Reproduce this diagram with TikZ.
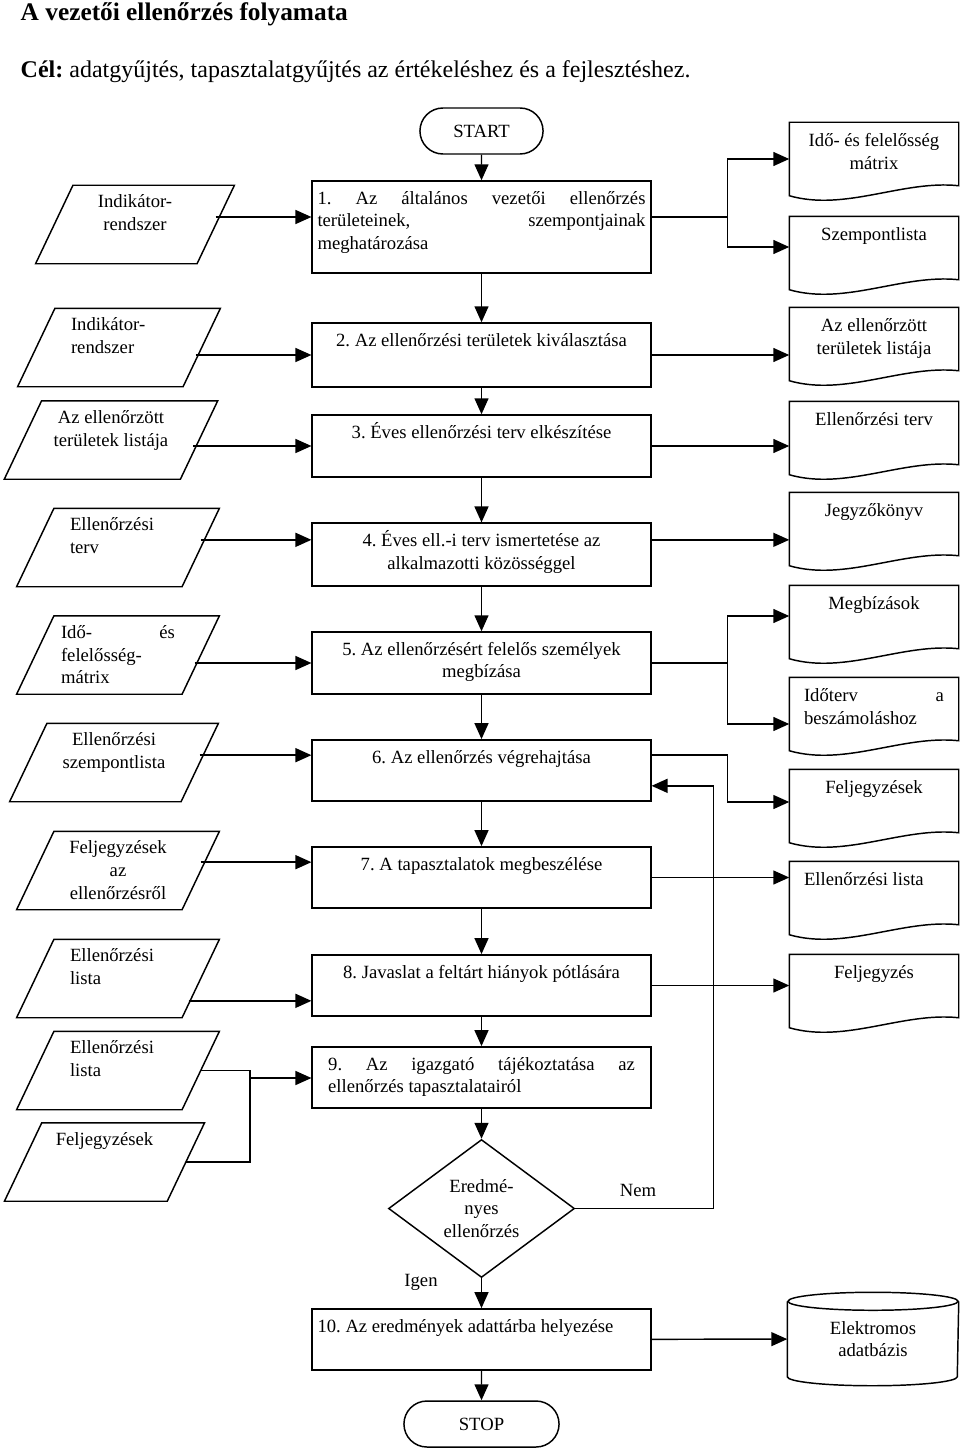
\documentclass[tikz,border=0pt]{standalone}
\usepackage{fontspec}
\setmainfont{Liberation Serif}
\usetikzlibrary{arrows.meta, shapes.geometric, shapes.misc}
\frenchspacing

% text block of fixed height, set from the top
\newcommand{\boxtxt}[3]{\parbox[c][#1][t]{#2}{\strut#3}}

\begin{document}
\begin{tikzpicture}[x=0.75pt, y=-0.75pt, line width=1.1pt,
  >={Triangle[length=12pt, width=10.5pt]},
  every node/.style={font=\fontsize{14}{17}\selectfont},
  proc/.style={draw, inner xsep=4pt, inner ysep=5.5pt},
  doc/.style={minimum width=126pt, inner xsep=0pt, inner ysep=6pt},
  data/.style={minimum width=123pt, inner xsep=0pt, inner ysep=4.5pt},
  term/.style={draw, rounded rectangle, minimum height=34.5pt}]

\useasboundingbox (0,0) rectangle (960,1452);

% title
\node[anchor=base west, inner sep=0pt, font=\fontsize{19}{23}\selectfont\bfseries] (title) at (20,21) {A vezetői ellenőrzés folyamata};
\node[anchor=base west, inner sep=0pt, font=\fontsize{18}{22}\selectfont] (goal) at (20,78) {\textbf{Cél:} adatgyűjtés, tapasztalatgyűjtés az értékeléshez és a fejlesztéshez.};

% main column
\node[term, minimum width=99pt] (start) at (481.5,131) {START};
\node[proc] (b1) at (481.5,227) {\boxtxt{58pt}{246pt}{\makebox[\linewidth][s]{1. Az általános vezetői ellenőrzés}\\\makebox[\linewidth][s]{területeinek, szempontjainak}\\meghatározása}};
\node[proc] (b2) at (481.5,355) {\boxtxt{37pt}{246pt}{\centering 2. Az ellenőrzési területek kiválasztása}};
\node[proc] (b3) at (481.5,446) {\boxtxt{35.5pt}{246pt}{\centering 3. Éves ellenőrzési terv elkészítése}};
\node[proc] (b4) at (481.5,554.5) {\boxtxt{36pt}{246pt}{\centering 4. Éves ell.-i terv ismertetése az\\alkalmazotti közösséggel}};
\node[proc] (b5) at (481.5,663) {\boxtxt{35.5pt}{246pt}{\centering 5. Az ellenőrzésért felelős személyek\\megbízása}};
\node[proc] (b6) at (481.5,770.5) {\boxtxt{35pt}{246pt}{\centering 6. Az ellenőrzés végrehajtása}};
\node[proc] (b7) at (481.5,877.5) {\boxtxt{35pt}{246pt}{\centering 7. A tapasztalatok megbeszélése}};
\node[proc] (b8) at (481.5,985.5) {\boxtxt{35pt}{246pt}{\centering 8. Javaslat a feltárt hiányok pótlására}};
\node[proc] (b9) at (481.5,1077.5) {\boxtxt{35pt}{246pt}{\hspace*{8pt}\makebox[230pt][s]{9. Az igazgató tájékoztatása az}\\\hspace*{8pt}ellenőrzés tapasztalatairól}};
\node[draw, diamond, aspect=1.35, minimum width=139.5pt, minimum height=103.5pt, inner sep=0pt, align=center] (dia) at (481.5,1208.5) {Eredmé-\\nyes\\ellenőrzés};
\node[proc] (b10) at (481.5,1339.5) {\boxtxt{35pt}{246pt}{10. Az eredmények adattárba helyezése}};
\node[term, minimum width=123pt] (stop) at (481.5,1424) {STOP};

\node (nem) at (638,1190) {Nem};
\node (igen) at (421,1282) {Igen};

% inputs
\node[data, minimum width=120pt] (p1) at (135,224.5) {\boxtxt{48.75pt}{100pt}{\centering Indikátor-\\rendszer}};
\node[data] (p2) at (119,347.5) {\boxtxt{48.75pt}{72pt}{Indikátor-\\rendszer}};
\node[data, minimum width=131pt] (p3) at (111,440) {\boxtxt{48.75pt}{120pt}{\centering Az ellenőrzött\\területek listája}};
\node[data] (p4) at (118,547.5) {\boxtxt{48.75pt}{72pt}{Ellenőrzési\\terv}};
\node[data] (p5) at (118,655) {\boxtxt{48.75pt}{85.5pt}{\makebox[\linewidth][s]{Idő- és}\\felelősség-\\mátrix}};
\node[data, minimum width=127.5pt] (p6) at (114,762.5) {\boxtxt{48.75pt}{110pt}{\centering Ellenőrzési\\szempontlista}};
\node[data] (p7) at (118,870.5) {\boxtxt{48.75pt}{100pt}{\centering Feljegyzések\\az\\ellenőrzésről}};
\node[data] (p8) at (118,978.5) {\boxtxt{48.75pt}{72pt}{Ellenőrzési\\lista}};
\node[data] (p9) at (118,1070.5) {\boxtxt{48.75pt}{72pt}{Ellenőrzési\\lista}};
\node[data, minimum width=121pt] (p10) at (104.5,1162) {\boxtxt{48.75pt}{100pt}{\centering Feljegyzések}};

\foreach \i in {1,...,10}
  \draw ([xshift=-14pt]p\i.south west) -- ([xshift=-14pt]p\i.south east) -- ([xshift=14pt]p\i.north east) -- ([xshift=14pt]p\i.north west) -- cycle;

% outputs
\node[doc] (d1) at (874,159) {\boxtxt{42pt}{105pt}{\centering Idő- és felelősség\\mátrix}};
\node[doc] (d2) at (874,253) {\boxtxt{42pt}{105pt}{\centering Szempontlista}};
\node[doc] (d3) at (874,344) {\boxtxt{42pt}{105pt}{\centering Az ellenőrzött\\területek listája}};
\node[doc] (d4) at (874,438) {\boxtxt{42pt}{105pt}{\centering Ellenőrzési terv}};
\node[doc] (d5) at (874,529) {\boxtxt{42pt}{105pt}{\centering Jegyzőkönyv}};
\node[doc] (d6) at (874,622) {\boxtxt{42pt}{105pt}{\centering Megbízások}};
\node[doc] (d7) at (874,714) {\boxtxt{42pt}{105pt}{\makebox[\linewidth][s]{Időterv a}\\beszámoláshoz}};
\node[doc] (d8) at (874,806) {\boxtxt{42pt}{105pt}{\centering Feljegyzések}};
\node[doc] (d9) at (874,898) {\boxtxt{42pt}{105pt}{Ellenőrzési lista}};
\node[doc] (d10) at (874,991) {\boxtxt{42pt}{105pt}{\centering Feljegyzés}};

\foreach \i in {1,...,10}
  \draw (d\i.south west) .. controls +(56,16) and +(-56,-6) .. ([yshift=7.5pt]d\i.south east) -- (d\i.north east) -- (d\i.north west) -- cycle;

% database
\node[minimum width=127.5pt, minimum height=69pt, align=center] (db) at (873,1339) {Elektromos\\adatbázis};
\draw ([yshift=-6.75pt]db.north west) -- ([yshift=6.75pt]db.south west) arc[start angle=180, end angle=360, x radius=63.75pt, y radius=6.75pt] -- ([yshift=-6.75pt]db.north east);
\draw ([yshift=-6.75pt]db.north) ellipse [x radius=63.75pt, y radius=6.75pt];

% ports that are not at the middle of a box
\coordinate (in1) at ([yshift=7.5pt]b1.west);
\coordinate (out1) at ([yshift=7.5pt]b1.east);
\coordinate (in4) at ([yshift=11pt]b4.west);
\coordinate (out4) at ([yshift=11pt]b4.east);
\coordinate (in6) at ([yshift=11.5pt]b6.west);
\coordinate (out6) at ([yshift=11.5pt]b6.east);
\coordinate (back6) at ([yshift=-11.5pt]b6.east);
\coordinate (in7) at ([yshift=11.5pt]b7.west);
\coordinate (in8) at ([yshift=-11.5pt]b8.west);
\coordinate (j9) at (250,1078);

% main flow
\foreach \a/\b in {start/b1, b1/b2, b2/b3, b3/b4, b4/b5, b5/b6, b6/b7, b7/b8, b8/b9, b9/dia, dia/b10, b10/stop}
  \path[->] (\a) edge (\b);

% inputs into the steps
\path[->] (p1.east |- in1) edge (in1);
\path[->] (p2.east |- b2.west) ++(-6,0) edge (b2.west);
\path[->] (p3.east |- b3.west) ++(-6,0) edge (b3.west);
\path[->] (p4.east |- in4) edge (in4);
\path[->] (p5.east |- b5.west) ++(-6,0) edge (b5.west);
\path[->] (p6.east |- in6) edge (in6);
\path[->] (p7.east |- in7) edge (in7);
\path[->] (p8.east |- in8) ++(-12,0) edge (in8);
\draw (p9.east) -| (j9) |- (p10.east);
\path[->] (j9) edge (j9 -| b9.west);

% outputs of the steps
\draw[->] (out1) -- ++(76,0) |- (d1.west);
\draw[->] (out1) -- ++(76,0) |- ([yshift=4.5pt]d2.west);
\path[->] (b2.east) edge (b2.east -| d3.west);
\path[->] (b3.east) edge (b3.east -| d4.west);
\path[->] (out4) edge (out4 -| d5.west);
\draw[->] (b5.east) -- ++(76,0) |- ([yshift=4.5pt]d6.west);
\draw[->] (b5.east) -- ++(76,0) |- ([yshift=-7.5pt]d7.west);
\draw[->] (out6) -- ++(76,0) |- ([yshift=3pt]d8.west);
\path[->] (b7.east) edge (b7.east -| d9.west);
\path[->] (b8.east) edge (b8.east -| d10.west);
\path[->] (b10) edge (db);

% not successful: back to step 6
\draw[->] (dia.east) -- ++(138.5,0) |- (back6);

\end{tikzpicture}
\end{document}
